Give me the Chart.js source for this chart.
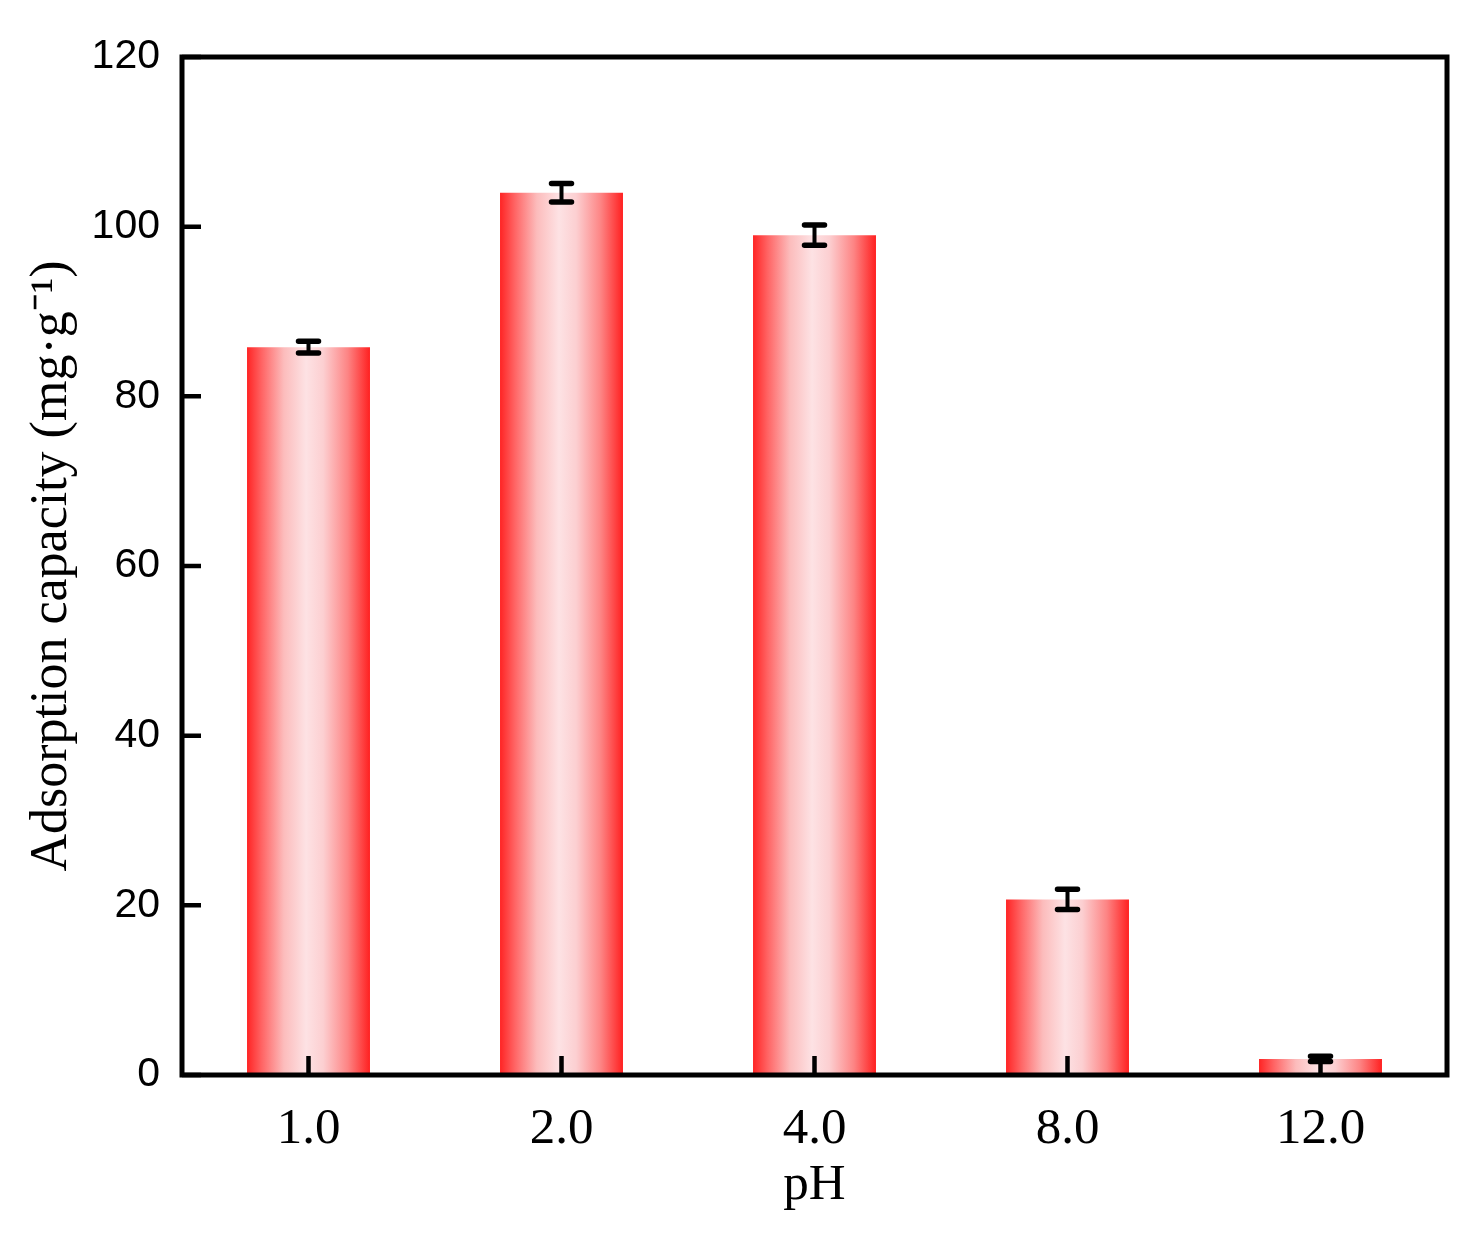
<!DOCTYPE html>
<html>
<head>
<meta charset="utf-8">
<script src="https://cdn.jsdelivr.net/npm/chart.js@4.4.0/dist/chart.umd.min.js"></script>
<style>
html,body{margin:0;padding:0;background:#fff;}
#wrap{width:1481px;height:1233px;position:relative;}
</style>
</head>
<body>
<div id="wrap"><canvas id="c" width="1481" height="1233"></canvas></div>
<script>
const categories = ['1.0', '2.0', '4.0', '8.0', '12.0'];
const capacity = [85.8, 104.0, 99.0, 20.7, 1.9];
const capacityError = [0.7, 1.1, 1.2, 1.2, 0.3];
const yTicks = [0, 20, 40, 60, 80, 100, 120];

const BAR_FRACTION = 0.486;

function barGradient(ctx) {
  const chart = ctx.chart;
  const area = chart.chartArea;
  const xs = chart.scales.x;
  if (!area || !xs) return '#ff3030';
  const cx = xs.getPixelForValue(ctx.dataIndex);
  const half = (area.width / categories.length) * BAR_FRACTION / 2;
  const g = chart.ctx.createLinearGradient(cx - half, 0, cx + half, 0);
  g.addColorStop(0, '#ff2424');
  g.addColorStop(0.12, '#ff6464');
  g.addColorStop(0.3, '#fcbcbc');
  g.addColorStop(0.48, '#fde2e4');
  g.addColorStop(0.62, '#fccfd1');
  g.addColorStop(0.82, '#fd8484');
  g.addColorStop(1, '#ff2020');
  return g;
}

const framePlugin = {
  id: 'frame',
  afterDatasetsDraw(chart) {
    const {ctx, chartArea: a, scales} = chart;
    ctx.save();
    // error bars
    ctx.strokeStyle = '#000';
    ctx.lineCap = 'round';
    capacity.forEach((v, i) => {
      const x = scales.x.getPixelForValue(i);
      const yt = scales.y.getPixelForValue(v + capacityError[i]);
      const yb = scales.y.getPixelForValue(v - capacityError[i]);
      ctx.lineWidth = 4;
      ctx.beginPath();
      ctx.moveTo(x, yt); ctx.lineTo(x, yb);
      ctx.stroke();
      ctx.lineWidth = 5.5;
      ctx.beginPath();
      ctx.moveTo(x - 10, yt); ctx.lineTo(x + 10, yt);
      ctx.moveTo(x - 10, yb); ctx.lineTo(x + 10, yb);
      ctx.stroke();
    });
    ctx.lineCap = 'butt';
    // inward ticks
    ctx.lineWidth = 4.5;
    ctx.beginPath();
    categories.forEach((c, i) => {
      const x = scales.x.getPixelForValue(i);
      ctx.moveTo(x, a.bottom); ctx.lineTo(x, a.bottom - 19);
    });
    yTicks.forEach(t => {
      const y = scales.y.getPixelForValue(t);
      ctx.moveTo(a.left, y); ctx.lineTo(a.left + 19, y);
    });
    ctx.stroke();
    // frame
    ctx.lineWidth = 5;
    ctx.strokeRect(a.left, a.top, a.right - a.left, a.bottom - a.top);
    ctx.restore();
  }
};

new Chart(document.getElementById('c'), {
  type: 'bar',
  data: {
    labels: categories,
    datasets: [{
      label: 'Adsorption capacity',
      data: capacity,
      backgroundColor: barGradient,
      borderWidth: 0,
      barPercentage: BAR_FRACTION,
      categoryPercentage: 1.0
    }]
  },
  options: {
    responsive: false,
    animation: false,
    devicePixelRatio: 1,
    layout: { padding: { top: 57, right: 34, left: 0, bottom: 0 } },
    plugins: { legend: { display: false }, tooltip: { enabled: false } },
    scales: {
      x: {
        grid: { display: false, drawTicks: false },
        border: { display: false },
        ticks: {
          color: '#000',
          padding: 24,
          font: { family: '"Liberation Serif", "Times New Roman", serif', size: 51 }
        },
        title: {
          display: true,
          text: 'pH',
          color: '#000',
          padding: { top: 0, bottom: 17 },
          font: { family: '"Liberation Serif", "Times New Roman", serif', size: 51 }
        },
        afterFit(scale) { scale.height = 1233 - 1075; }
      },
      y: {
        min: 0,
        max: 120,
        afterBuildTicks(scale) { scale.ticks = yTicks.map(v => ({ value: v })); },
        grid: { display: false, drawTicks: false },
        border: { display: false },
        ticks: {
          color: '#000',
          padding: 22,
          font: { family: '"Liberation Sans", Arial, sans-serif', size: 41 }
        },
        title: {
          display: true,
          text: 'Adsorption capacity (mg·g⁻¹)',
          color: '#000',
          padding: { top: 21, bottom: 0 },
          font: { family: '"Liberation Serif", "Times New Roman", serif', size: 52 }
        },
        afterFit(scale) { scale.width = 182; }
      }
    }
  },
  plugins: [framePlugin]
});
</script>
</body>
</html>
